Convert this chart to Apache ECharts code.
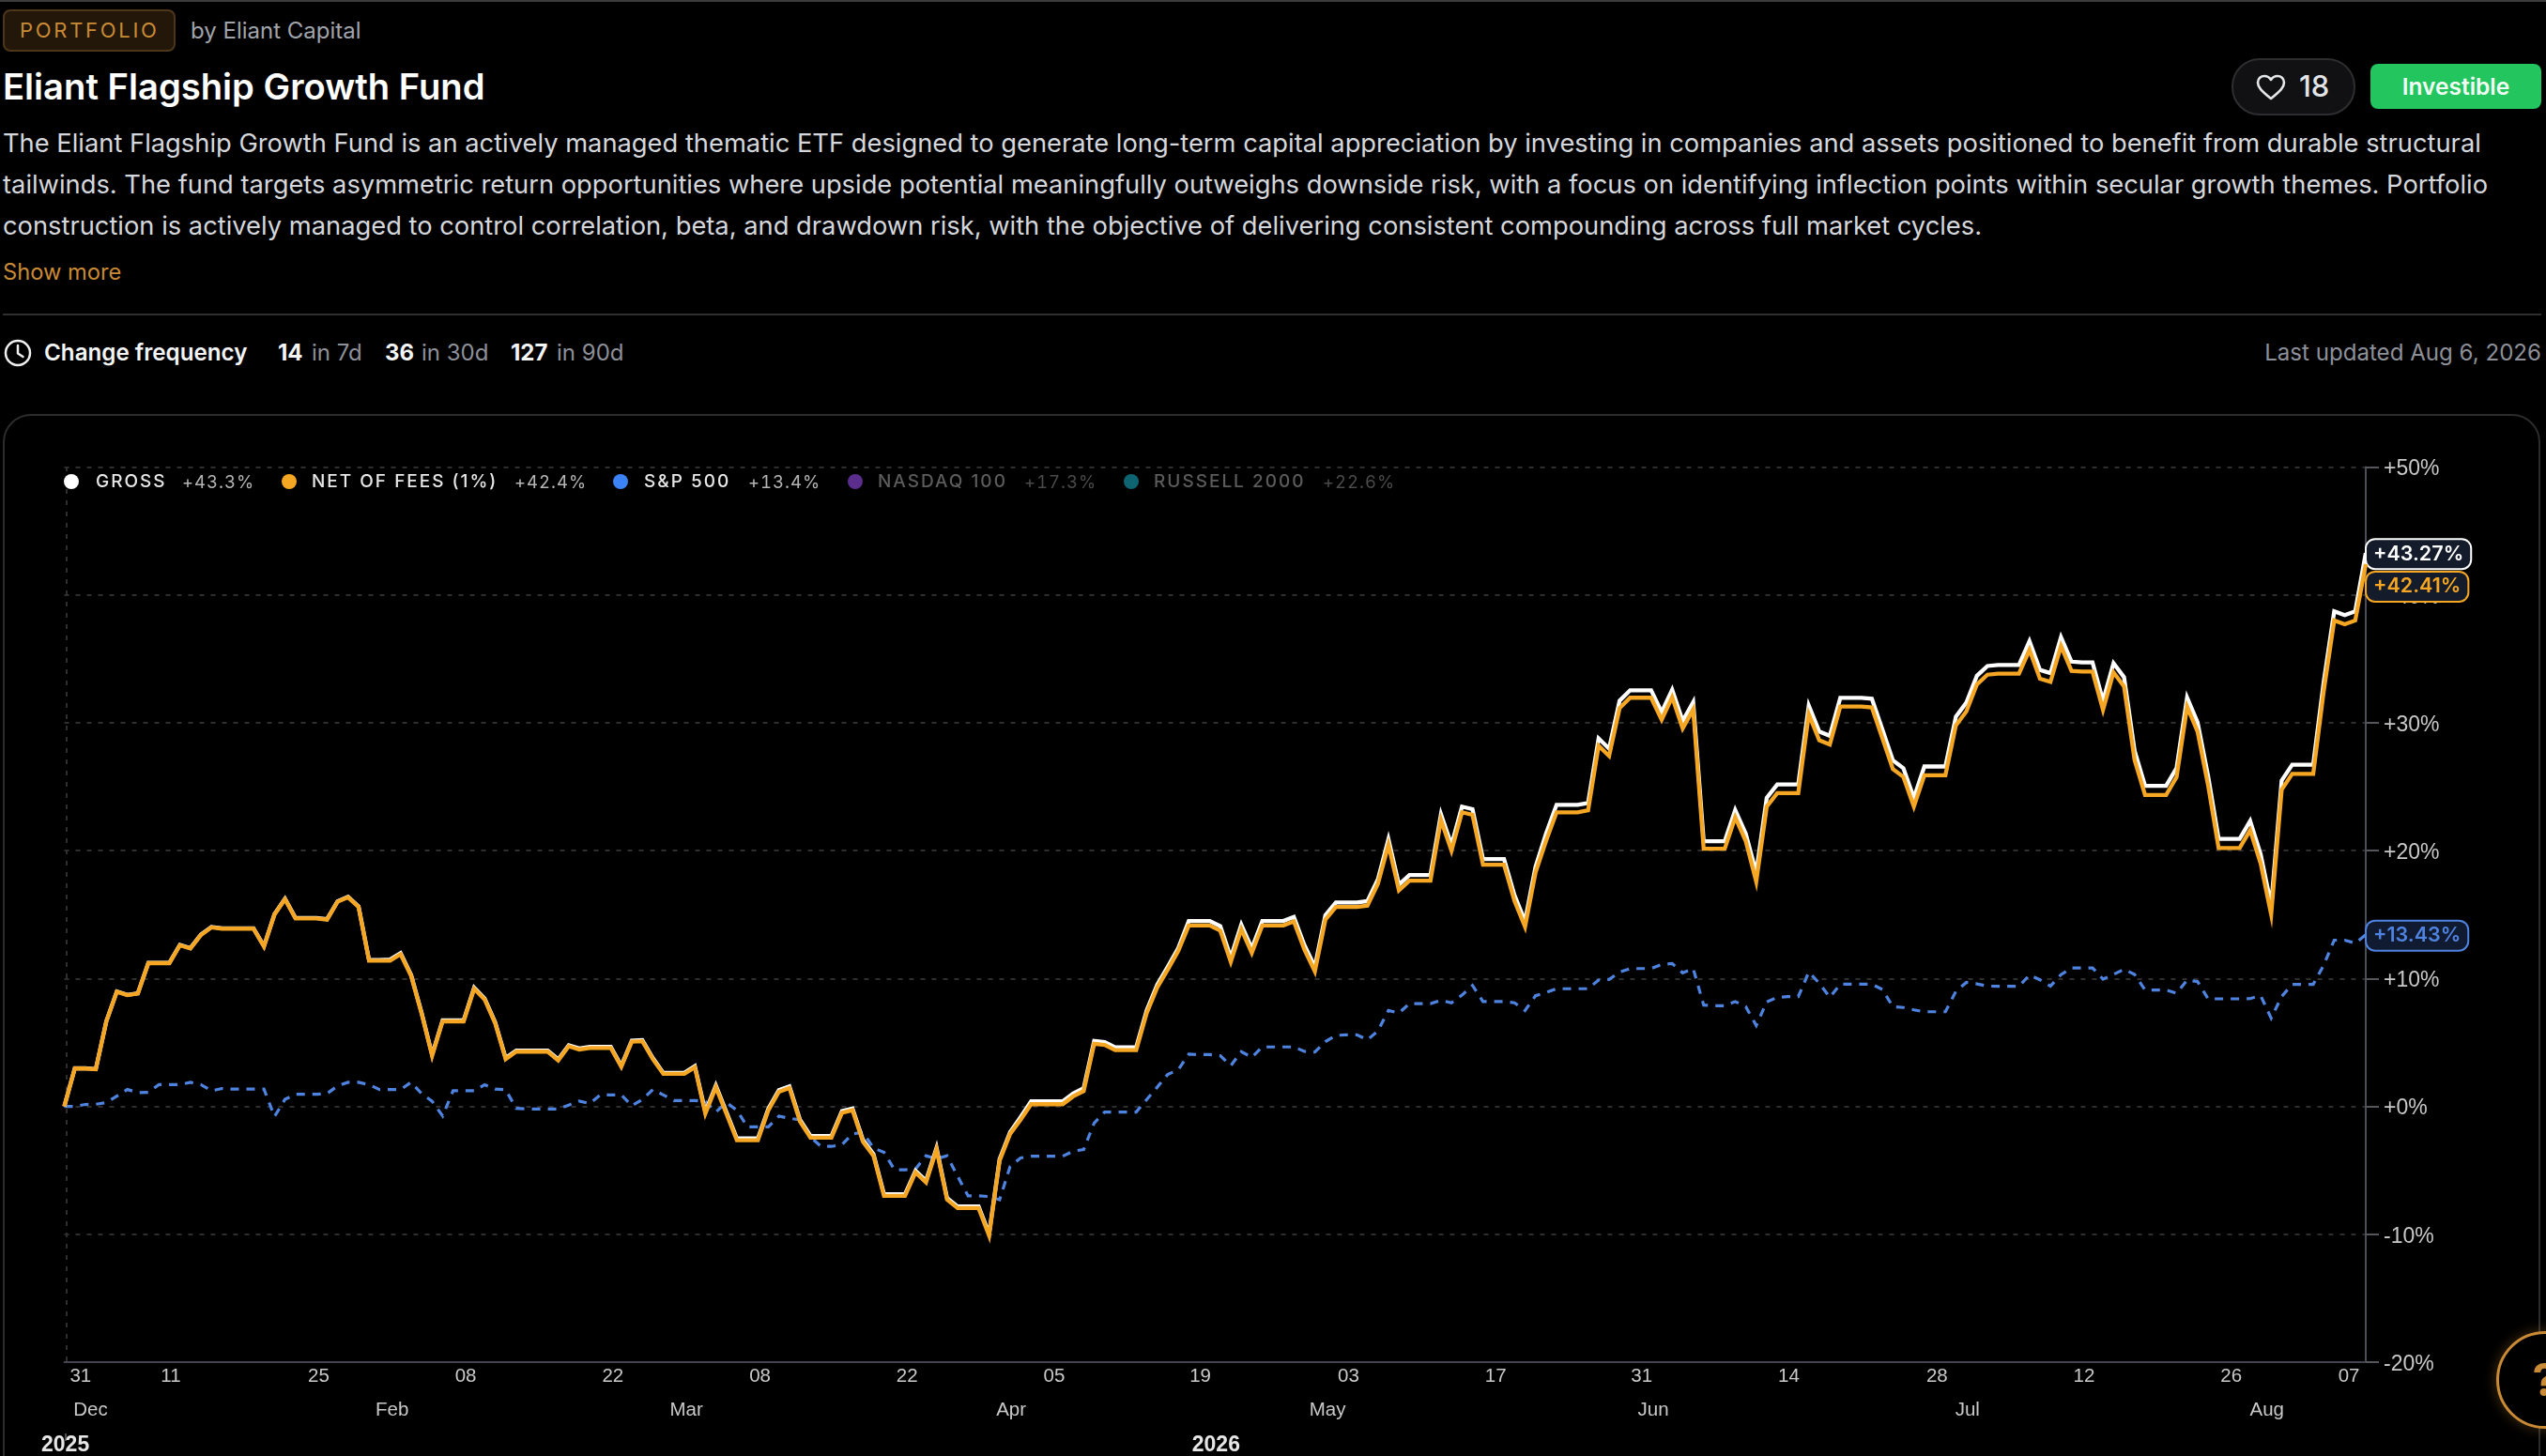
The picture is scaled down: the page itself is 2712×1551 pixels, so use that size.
<!DOCTYPE html>
<html><head><meta charset="utf-8">
<script src="https://cdn.jsdelivr.net/npm/echarts@6/dist/echarts.min.js"></script>
<style>
html,body{margin:0;padding:0;background:#000;width:2712px;height:1551px;overflow:hidden;font-family:Inter,sans-serif}
.a{position:absolute;white-space:nowrap}
#chart{position:absolute;left:0;top:0;width:2712px;height:1551px}
#legend span{position:absolute;white-space:nowrap;line-height:24px}
</style></head><body>
<div class="a" style="left:0;top:0;width:2712px;height:2px;background:#3c3c3c"></div>
<div class="a" style="left:3px;top:10px;width:180px;height:41px;border:2px solid #4d361a;border-radius:8px;background:#23170a"></div>
<div class="a" style="left:21px;top:19px;font-size:22px;line-height:27px;letter-spacing:2.7px;color:#c98a35">PORTFOLIO</div>
<div class="a" style="left:203px;top:19px;font-size:24px;line-height:27px;color:#a0a4ac">by Eliant Capital</div>
<div class="a" style="left:3px;top:68px;font-size:38.2px;line-height:48px;font-weight:600;color:#fff">Eliant Flagship Growth Fund</div>
<div class="a" style="left:2377px;top:62px;width:128px;height:57px;border:2px solid #2e2e30;border-radius:30px;background:#111113"></div>
<svg class="a" style="left:2403px;top:79px" width="32" height="28" viewBox="0 0 32 28"><path d="M16 26 C6 18 2 14 2 9 C2 4.500 5.500 2 9 2 C12 2 14.500 3.500 16 6 C17.500 3.500 20 2 23 2 C26.500 2 30 4.500 30 9 C30 14 26 18 16 26 Z" fill="none" stroke="#e5e7eb" stroke-width="2.600" stroke-linejoin="round"/></svg>
<div class="a" style="left:2449px;top:73px;font-size:31px;line-height:38px;font-weight:500;color:#e2e4e8">18</div>
<div class="a" style="left:2525px;top:68px;width:182px;height:48px;line-height:48px;background:#22c55e;border-radius:8px;text-align:center;color:#f2fff6;font-size:24.5px;font-weight:600">Investible</div>
<div class="a" style="left:3px;top:131px;font-size:27.3px;line-height:44px;color:#d4d7dc">The Eliant Flagship Growth Fund is an actively managed thematic ETF designed to generate long-term capital appreciation by investing in companies and assets positioned to benefit from durable structural<br>tailwinds. The fund targets asymmetric return opportunities where upside potential meaningfully outweighs downside risk, with a focus on identifying inflection points within secular growth themes. Portfolio<br>construction is actively managed to control correlation, beta, and drawdown risk, with the objective of delivering consistent compounding across full market cycles.</div>
<div class="a" style="left:3px;top:276px;font-size:23.7px;line-height:28px;color:#c98a35">Show more</div>
<div class="a" style="left:3px;top:334px;width:2704px;height:2px;background:#2f2f2f"></div>
<svg class="a" style="left:4px;top:361px" width="30" height="30" viewBox="0 0 30 30"><circle cx="15" cy="15" r="13" fill="none" stroke="#f0f0f0" stroke-width="2.500"/><path d="M15 7 V15.500 L20.500 19" fill="none" stroke="#f0f0f0" stroke-width="2.500" stroke-linecap="round" stroke-linejoin="round"/></svg>
<div class="a" style="left:47px;top:362px;font-size:24.2px;line-height:28px;font-weight:600;color:#f3f4f6">Change frequency</div>
<div class="a" style="left:296px;top:362px;font-size:24px;line-height:28px;font-weight:700;color:#f3f4f6">14</div>
<div class="a" style="left:332px;top:362px;font-size:24px;line-height:28px;color:#8d9098">in 7d</div>
<div class="a" style="left:410px;top:362px;font-size:24px;line-height:28px;font-weight:700;color:#f3f4f6">36</div>
<div class="a" style="left:449px;top:362px;font-size:24px;line-height:28px;color:#8d9098">in 30d</div>
<div class="a" style="left:544px;top:362px;font-size:24px;line-height:28px;font-weight:700;color:#f3f4f6">127</div>
<div class="a" style="left:593px;top:362px;font-size:24px;line-height:28px;color:#8d9098">in 90d</div>
<div class="a" style="right:5px;top:362px;font-size:24.1px;line-height:28px;color:#8d9098">Last updated Aug 6, 2026</div>
<div class="a" style="left:3px;top:441px;width:2703px;height:1200px;border:2px solid #2c2c2e;border-radius:30px;box-sizing:border-box"></div>
<div id="chart"></div>
<div id="legend" class="a" style="left:0;top:0"></div>
<div class="a" style="left:2659px;top:1418px;width:104px;height:104px;box-sizing:border-box;border:3px solid #c98a35;border-radius:52px;box-shadow:0 0 14px rgba(201,138,53,.35);background:#000;color:#c98a35;font-size:48px;font-weight:700;line-height:98px;text-align:center">?</div>
<script>
var netValues=[0,2.96,2.96,2.9,6.65,8.97,8.7,8.83,11.2,11.2,11.2,12.6,12.35,13.4,14,13.9,13.9,13.9,13.9,12.5,15,16.2,14.7,14.7,14.7,14.6,16,16.35,15.6,11.4,
11.4,11.4,11.9,10.2,7.25,3.96,6.65,6.65,6.65,9.2,8.36,6.5,3.7,4.28,4.28,4.28,4.28,3.6,4.7,4.45,4.57,4.57,4.57,3.1,5.06,5.1,3.7,2.54,2.54,2.54,
3.06,-0.56,1.5,-0.56,-2.64,-2.64,-2.64,-0.3,1.15,1.44,-1.17,-2.44,-2.44,-2.44,-0.5,-0.3,-2.76,-3.86,-7,-7,-7,-5.16,-5.94,-3.37,-7.29,-7.95,-7.95,-7.95,-10.1,-4.25,
-2.15,-1.05,0.17,0.17,0.17,0.17,0.78,1.2,4.9,4.8,4.4,4.4,4.4,7.3,9.3,10.7,12.15,14.15,14.15,14.15,13.74,11.3,13.86,12,14.15,14.15,14.15,14.47,12.27,10.56,
14.6,15.6,15.6,15.6,15.7,17.4,20.46,16.9,17.65,17.65,17.65,22.4,20,23,22.8,18.9,18.9,18.9,16.06,14.05,
18.3,20.76,23,23,23,23.15,28.2,27.4,31.15,31.96,31.96,31.96,30.24,32,29.56,31.03,20.15,20.15,20.15,22.6,
20.76,17.58,23.45,24.5,24.5,24.5,30.66,28.63,28.3,31.27,31.27,31.27,31.2,28.8,26.38,25.77,23.45,25.9,25.9,25.9,
29.8,30.9,33,33.76,33.84,33.84,33.84,35.7,33.45,33.2,36,34.06,34,34,31,33.94,32.84,27.1,24.35,24.35,
24.35,25.75,31.25,29.3,25.1,20.2,20.2,20.2,21.6,19,15,24.77,26,26,26,32.47,38,37.7,38,42.41];
var grossValues=[0,2.98,2.98,2.92,6.67,8.99,8.72,8.85,11.23,11.23,11.23,12.63,12.38,13.43,14.03,13.93,13.93,13.93,13.93,12.53,15.04,16.24,14.74,14.74,14.74,14.64,16.04,16.39,15.64,11.44,
11.45,11.48,11.98,10.28,7.33,4.04,6.73,6.73,6.73,9.28,8.44,6.58,3.78,4.36,4.36,4.36,4.36,3.68,4.78,4.53,4.65,4.65,4.65,3.18,5.14,5.18,3.78,2.62,2.62,2.62,
3.14,-0.43,1.63,-0.43,-2.51,-2.51,-2.51,-0.17,1.28,1.57,-1.04,-2.31,-2.31,-2.31,-0.37,-0.17,-2.63,-3.73,-6.87,-6.87,-6.87,-5.03,-5.81,-3.24,-7.16,-7.82,-7.82,-7.82,-9.97,-4.12,
-2.02,-0.83,0.39,0.39,0.39,0.39,1,1.42,5.12,5.02,4.62,4.62,4.62,7.52,9.52,10.92,12.37,14.5,14.5,14.5,14.09,11.65,14.21,12.35,14.5,14.5,14.5,14.82,12.62,10.91,
14.95,15.95,15.95,15.95,16.05,17.75,20.9,17.34,18.09,18.09,18.09,22.84,20.44,23.44,23.24,19.34,19.34,19.34,16.5,14.49,
18.74,21.34,23.58,23.58,23.58,23.73,28.78,27.98,31.73,32.54,32.54,32.54,30.82,32.58,30.14,31.61,20.73,20.73,20.73,23.18,
21.34,18.26,24.13,25.18,25.18,25.18,31.34,29.31,28.98,31.95,31.95,31.95,31.88,29.48,27.06,26.45,24.13,26.58,26.58,26.58,
30.48,31.58,33.68,34.44,34.52,34.52,34.52,36.38,34.13,33.88,36.68,34.78,34.72,34.72,31.72,34.66,33.56,27.82,25.07,25.07,
25.07,26.47,31.97,30.02,25.82,20.92,20.92,20.92,22.32,19.72,15.72,25.49,26.72,26.72,26.72,33.19,38.72,38.42,38.72,43.27];
var spxValues=[0,0,0.15,0.17,0.3,0.8,1.32,1.08,1.1,1.7,1.7,1.7,1.88,1.7,1.22,1.4,1.35,1.35,1.35,1.35,-0.8,0.55,0.95,0.95,0.95,1,1.6,1.88,1.88,1.7,
1.32,1.32,1.32,1.88,1,0.4,-0.75,1.22,1.22,1.22,1.7,1.35,1.3,-0.15,-0.2,-0.2,-0.2,-0.2,0.1,0.42,0.22,0.9,0.9,0.9,0.05,0.54,1.32,0.9,0.46,0.46,
0.46,0.4,-0.44,0.3,-0.3,-1.6,-1.6,-1.6,-0.76,-0.93,-1.05,-2.4,-3.13,-3.13,-3,-2.15,-2.03,-3.25,-3.6,-4.96,-4.96,-4.9,-3.86,-4.1,-3.86,-5.45,-7,-7,-7.05,-7.3,
-4.7,-4.03,-3.9,-3.9,-3.9,-3.9,-3.5,-3.37,-1.3,-0.44,-0.44,-0.44,-0.44,0.54,1.5,2.5,2.86,4.08,4.05,4.05,3.96,3.18,4.28,3.84,4.65,4.65,4.65,4.65,4.3,4.25,
5.06,5.55,5.6,5.6,5.2,5.9,7.5,7.3,8.04,8.04,8.04,8.3,8.1,8.7,9.46,8.2,8.2,8.2,8.1,7.5,
8.65,8.9,9.2,9.2,9.2,9.2,9.88,9.93,10.5,10.78,10.78,10.78,11.1,11.17,10.44,10.78,7.92,7.87,7.87,8.2,
7.8,6.33,8.17,8.53,8.58,8.58,10.5,9.63,8.53,9.56,9.56,9.56,9.56,9.14,7.8,7.73,7.55,7.4,7.4,7.4,
9,9.7,9.58,9.41,9.39,9.39,9.39,10.27,9.9,9.41,10.3,10.83,10.83,10.83,9.95,10.32,10.73,10.32,9.1,9.1,
9.1,8.85,9.88,9.76,8.41,8.41,8.41,8.41,8.43,8.66,6.9,8.6,9.54,9.54,9.54,11.05,13,13,12.76,13.43];
var dayTicks=[1.55,10.14,24.2,38.2,52.2,66.2,80.2,94.2,108.1,122.2,136.2,150.1,164.1,178.2,192.2,206.2,217.4];
var dayLabels=['31','11','25','08','22','08','22','05','19','03','17','31','14','28','12','26','07'];
var monthTicks=[2.5,31.2,59.2,90.1,120.2,151.2,181.1,209.6];
var monthLabels=['Dec','Feb','Mar','Apr','May','Jun','Jul','Aug'];
var yearTicks=[0.1,109.6];
var yearLabels=['2025','2026'];
var legendNames=['GROSS','NET OF FEES (1%)','S&P 500','NASDAQ 100','RUSSELL 2000'];
var legendValues=['+43.3%','+42.4%','+13.4%','+17.3%','+22.6%'];
var legendColors=['#ffffff','#f5a623','#3b82f6','#5b2d8c','#0e6470'];
var legendDim=[false,false,false,true,true];
var legendDotX=[76,308,661,911,1205];
var legendNameX=[102,332,686,935,1229];
var legendValueX=[194,548,797,1091,1409];
var leg=document.getElementById('legend');
legendNames.forEach(function(n,i){
  var d=document.createElement('span');
  d.style.cssText='left:'+(legendDotX[i]-8)+'px;top:505px;width:16px;height:16px;border-radius:8px;background:'+legendColors[i];
  leg.appendChild(d);
  var t=document.createElement('span');
  t.textContent=n;
  t.style.cssText='left:'+legendNameX[i]+'px;top:501px;font-size:19px;letter-spacing:2px;font-weight:500;color:'+(legendDim[i]?'#5c5c5c':'#e8e8e8');
  leg.appendChild(t);
  var v=document.createElement('span');
  v.textContent=legendValues[i];
  v.style.cssText='font-variant-numeric:tabular-nums;left:'+legendValueX[i]+'px;top:501px;font-size:18.5px;letter-spacing:1px;color:'+(legendDim[i]?'#4a4a4a':'#b5b5b5');
  leg.appendChild(v);
});
function pts(a){return a.map(function(v,i){return [i,v];});}
function labelFrom(ticks,labels){return function(v){var k=ticks.indexOf(v);return k<0?'':labels[k];};}
function bottomAxis(ticks,labels,margin,size,weight,color){
  return {type:'value',min:0,max:219,position:'bottom',
    axisLine:{show:false},axisTick:{show:false},splitLine:{show:false},
    axisLabel:{show:true,customValues:ticks,formatter:labelFrom(ticks,labels),margin:margin,
      fontFamily:'Liberation Sans',fontSize:size,fontWeight:weight,color:color,hideOverlap:false,showMinLabel:true,showMaxLabel:true}};
}
var ax0=bottomAxis(dayTicks,dayLabels,5,20.5,'normal','#c9c9c9');
ax0.axisLine={show:true,onZero:false,lineStyle:{color:'#44444e',width:2}};
function line(name,data,color,width,type,z,boxBg,dy,txt){
  return {name:name,type:'line',data:pts(data),showSymbol:false,symbol:'none',z:z,clip:false,animation:false,
    lineStyle:{color:color,width:width,type:type,join:'miter',cap:'butt'},
    endLabel:{show:true,formatter:txt,distance:1,offset:[0,dy],color:color,fontFamily:'Inter',fontSize:21.5,fontWeight:600,
      backgroundColor:boxBg,borderColor:color,borderWidth:2,borderRadius:9,padding:[4,7,4,7],lineHeight:22}};
}
var chart=echarts.init(document.getElementById('chart'),null,{renderer:'canvas'});
chart.setOption({
  backgroundColor:'transparent',animation:false,
  grid:{left:68.5,right:192,top:497.5,bottom:99},
  xAxis:[ax0,bottomAxis(monthTicks,monthLabels,41,20.5,'normal','#c9c9c9'),bottomAxis(yearTicks,yearLabels,77,23,'bold','#e6e6e6')],
  yAxis:{type:'value',min:-20,max:50,interval:10,position:'right',
    axisLine:{show:true,onZero:false,lineStyle:{color:'#4a4d5a',width:2}},
    axisTick:{show:true,length:14,lineStyle:{color:'#55555c',width:2}},
    splitLine:{show:true,lineStyle:{color:'#2e2e2e',width:2,type:[5,7]}},
    axisLabel:{margin:19,verticalAlign:'top',lineHeight:5,fontFamily:'Liberation Sans',fontSize:23,color:'#c9c9c9',
      formatter:function(v){return (v>=0?'+':'')+v+'%';}}},
  graphic:[
    {type:'line',z:0,shape:{x1:71,y1:497,x2:71,y2:1452},style:{stroke:'#2e2e2e',lineWidth:2,lineDash:[5,7]}},
    {type:'line',z:0,shape:{x1:70,y1:1527,x2:70,y2:1535},style:{stroke:'#9a9a9a',lineWidth:1}}
  ],
  series:[
    line('S&P 500',spxValues,'#4f83e0',3.2,[9,8],3,'#101a30',1,'+13.43%'),
    line('GROSS',grossValues,'#ffffff',4.3,'solid',4,'#141b2b',1,'+43.27%'),
    line('NET OF FEES (1%)',netValues,'#f5a623',4.3,'solid',5,'#141b2b',24,'+42.41%')
  ]
});
</script>
</body></html>
